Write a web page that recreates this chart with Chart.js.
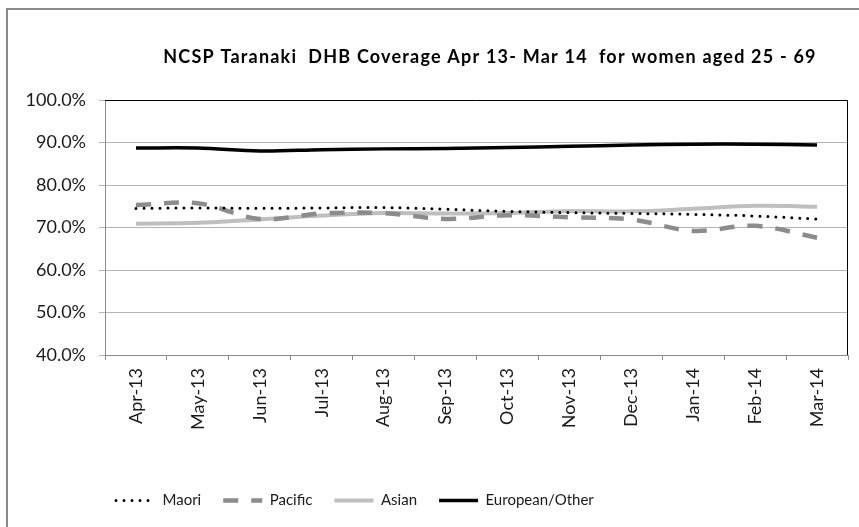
<!DOCTYPE html>
<html>
<head>
<meta charset="utf-8">
<script src="https://cdn.jsdelivr.net/npm/chart.js@4.4.1/dist/chart.umd.min.js"></script>
<style>
  body { margin: 0; background: #fff; }
  #wrap { position: relative; width: 859px; height: 527px; overflow: hidden; }
  #frame { position: absolute; left: 6px; top: 8px; width: 900px; height: 600px;
           border-left: 2px solid #8a8a8a; border-top: 2px solid #8a8a8a; pointer-events: none; }
  canvas { position: absolute; left: 0; top: 0; }
</style>
</head>
<body>
<div id="wrap">
  <canvas id="coverageChart" width="859" height="527"></canvas>
  <div id="frame"></div>
</div>
<script>
// months on the x axis
const months = ['Apr-13', 'May-13', 'Jun-13', 'Jul-13', 'Aug-13', 'Sep-13',
                'Oct-13', 'Nov-13', 'Dec-13', 'Jan-14', 'Feb-14', 'Mar-14'];

// coverage %
const maori    = [74.5, 74.6, 74.5, 74.6, 74.7, 74.3, 73.8, 73.5, 73.3, 73.1, 72.7, 72.0];
const pacific  = [75.3, 75.7, 72.0, 73.3, 73.4, 72.0, 72.9, 72.4, 71.9, 69.2, 70.4, 67.6];
const asian    = [70.9, 71.1, 71.9, 72.8, 73.4, 73.3, 73.4, 73.9, 73.8, 74.4, 75.1, 74.9];
const european = [88.7, 88.7, 88.0, 88.3, 88.5, 88.6, 88.8, 89.1, 89.4, 89.6, 89.6, 89.4];

const yTicks = [40, 50, 60, 70, 80, 90, 100];
const chartTitle = 'NCSP Taranaki  DHB Coverage Apr 13- Mar 14  for women aged 25 - 69';

const FONT = 'Lato, "Open Sans", sans-serif';

// title + black top/right plot border, legend shifted like the original
const extras = {
    id: 'extras',
    afterLayout(chart) {
        chart.legend.left = 94;
    },
    afterDraw(chart) {
        const { ctx, chartArea } = chart;
        ctx.save();
        ctx.strokeStyle = '#000';
        ctx.lineWidth = 1;
        ctx.beginPath();
        ctx.moveTo(chartArea.left, chartArea.top + 0.5);
        ctx.lineTo(chartArea.right - 0.5, chartArea.top + 0.5);
        ctx.lineTo(chartArea.right - 0.5, chartArea.bottom);
        ctx.stroke();

        ctx.fillStyle = '#000';
        ctx.font = 'bold 18px ' + FONT;
        ctx.letterSpacing = '1.2px';
        ctx.textAlign = 'center';
        ctx.textBaseline = 'middle';
        ctx.fillText(chartTitle, 490, 57);
        ctx.restore();
    }
};

new Chart(document.getElementById('coverageChart'), {
    type: 'line',
    data: {
        labels: months,
        datasets: [
            {
                label: 'Maori',
                data: maori,
                borderColor: '#000',
                borderWidth: 3,
                borderDash: [0, 8],
                borderCapStyle: 'round',
                pointRadius: 0,
                pointStyle: 'line',
                tension: 0.35
            },
            {
                label: 'Pacific',
                data: pacific,
                borderColor: '#8c8c8c',
                borderWidth: 4.5,
                borderDash: [15, 13],
                borderCapStyle: 'butt',
                pointRadius: 0,
                pointStyle: 'line',
                tension: 0.35
            },
            {
                label: 'Asian',
                data: asian,
                borderColor: '#bfbfbf',
                borderWidth: 4,
                pointRadius: 0,
                pointStyle: 'line',
                tension: 0.35
            },
            {
                label: 'European/Other',
                data: european,
                borderColor: '#000',
                borderWidth: 3.5,
                pointRadius: 0,
                pointStyle: 'line',
                tension: 0.35
            }
        ]
    },
    options: {
        responsive: false,
        animation: false,
        devicePixelRatio: 1,
        layout: { padding: { top: 100, left: 0, right: 11, bottom: 9 } },
        plugins: {
            title: { display: false },
            tooltip: { enabled: false },
            legend: {
                position: 'bottom',
                align: 'start',
                labels: {
                    usePointStyle: true,
                    pointStyleWidth: 39,
                    padding: 22,
                    color: '#1a1a1a',
                    font: { family: FONT, size: 15 },
                    // the default labels drop the dash pattern when point styles are used
                    generateLabels(chart) {
                        return chart.data.datasets.map((ds, i) => ({
                            text: ds.label,
                            datasetIndex: i,
                            fillStyle: ds.borderColor,
                            strokeStyle: ds.borderColor,
                            lineWidth: ds.borderWidth,
                            lineDash: ds.borderDash || [],
                            lineCap: ds.borderCapStyle || 'butt',
                            pointStyle: 'line',
                            fontColor: '#1a1a1a',
                            hidden: false
                        }));
                    }
                }
            }
        },
        scales: {
            x: {
                offset: true,
                grid: { drawOnChartArea: false, drawTicks: true, tickLength: 5, color: '#8c8c8c', offset: true },
                border: { color: '#8c8c8c' },
                ticks: {
                    maxRotation: 90, minRotation: 90, padding: 8,
                    color: '#1a1a1a',
                    font: { family: FONT, size: 18 }
                },
                afterFit(scale) { scale.height = 116; }
            },
            y: {
                min: 40, max: 100,
                afterBuildTicks(scale) { scale.ticks = yTicks.map(v => ({ value: v })); },
                grid: { color: '#b3b3b3', tickLength: 6 },
                border: { color: '#8c8c8c' },
                ticks: {
                    padding: 13,
                    color: '#1a1a1a',
                    font: { family: FONT, size: 18 },
                    callback: v => v.toFixed(1) + '%'
                },
                afterFit(scale) { scale.width = 105; }
            }
        }
    },
    plugins: [extras]
});
</script>
</body>
</html>
